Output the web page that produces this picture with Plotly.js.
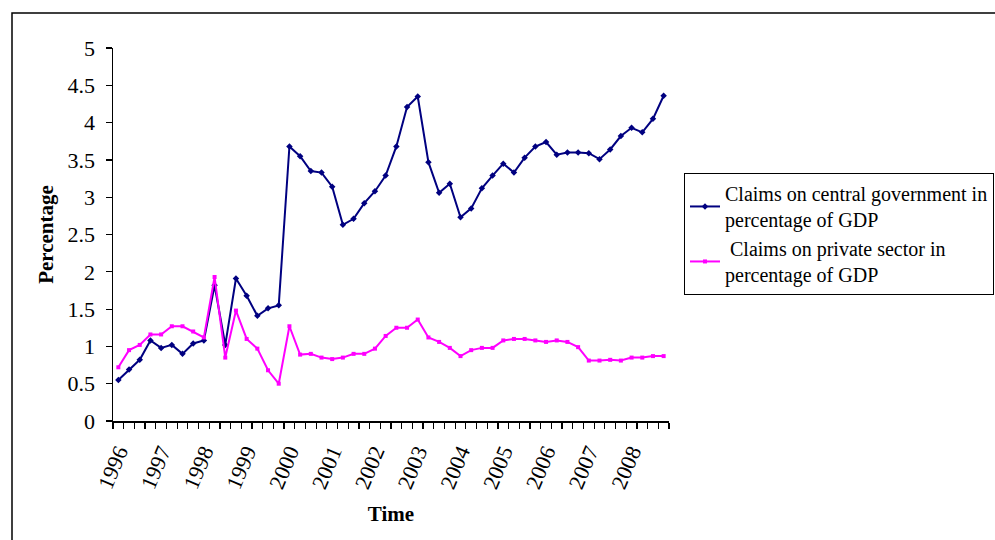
<!DOCTYPE html>
<html>
<head>
<meta charset="utf-8">
<script src="https://cdn.plot.ly/plotly-3.0.1.min.js"></script>
<style>
html,body{margin:0;padding:0;background:#fff;}
#chart{width:995px;height:540px;}
</style>
</head>
<body>
<div id="chart"></div>
<script>
// Quarterly observations 1996Q1 - 2008Q4
var years = ["1996","1997","1998","1999","2000","2001","2002","2003","2004","2005","2006","2007","2008"];
var quarterIndex = [];
for (var i = 0; i < 52; i++) quarterIndex.push(i);

var centralGov = [
  0.55, 0.69, 0.82, 1.08, 0.98, 1.02, 0.90, 1.04,
  1.08, 1.82, 1.02, 1.91, 1.68, 1.41, 1.51, 1.55,
  3.68, 3.55, 3.35, 3.33, 3.14, 2.63, 2.71, 2.92,
  3.08, 3.29, 3.68, 4.21, 4.35, 3.47, 3.06, 3.18,
  2.73, 2.85, 3.12, 3.29, 3.45, 3.33, 3.53, 3.68,
  3.74, 3.57, 3.60, 3.60, 3.59, 3.51, 3.64, 3.82,
  3.93, 3.87, 4.05, 4.36
];
var privateSector = [
  0.72, 0.95, 1.02, 1.16, 1.16, 1.27, 1.27, 1.20,
  1.12, 1.93, 0.85, 1.48, 1.10, 0.97, 0.68, 0.50,
  1.27, 0.89, 0.90, 0.85, 0.83, 0.85, 0.90, 0.90,
  0.97, 1.14, 1.25, 1.25, 1.36, 1.12, 1.06, 0.98,
  0.87, 0.95, 0.98, 0.98, 1.08, 1.10, 1.10, 1.08,
  1.06, 1.08, 1.06, 0.99, 0.81, 0.81, 0.82, 0.81,
  0.85, 0.85, 0.87, 0.87
];
var seriesNames = [
  "Claims on central government in<br>percentage of GDP",
  " Claims on private sector in<br>percentage of GDP"
];
var yTicks = [0, 0.5, 1, 1.5, 2, 2.5, 3, 3.5, 4, 4.5, 5];
var yTickText = ["0", "0.5", "1", "1.5", "2", "2.5", "3", "3.5", "4", "4.5", "5"];

var yearTickVals = years.map(function (y, k) { return k * 4; });
var serif = "Liberation Serif, Times New Roman, serif";

var traces = [
  {
    x: quarterIndex, y: centralGov, name: seriesNames[0],
    type: "scatter", mode: "lines+markers",
    line: {color: "#000080", width: 2},
    marker: {color: "#000080", symbol: "diamond", size: 5}
  },
  {
    x: quarterIndex, y: privateSector, name: seriesNames[1],
    type: "scatter", mode: "lines+markers",
    line: {color: "#FF00FF", width: 2},
    marker: {color: "#FF00FF", symbol: "square", size: 4}
  }
];

var layout = {
  width: 995, height: 540,
  margin: {l: 113, r: 326, t: 48, b: 119, pad: 0, autoexpand: false},
  paper_bgcolor: "#fff", plot_bgcolor: "#fff",
  font: {family: serif, size: 22, color: "#000"},
  showlegend: true,
  legend: {
    x: 1.027, xanchor: "left", y: 0.665, yanchor: "top",
    bordercolor: "#000", borderwidth: 1, bgcolor: "#fff",
    font: {family: serif, size: 20, color: "#000"},
    itemwidth: 30, tracegroupgap: 4
  },
  xaxis: {
    range: [-0.5, 51.5], fixedrange: true,
    showgrid: false, zeroline: false,
    showline: true, linecolor: "#000", linewidth: 1.5,
    tickmode: "array", tickvals: yearTickVals, ticktext: years,
    ticks: "", tickangle: -67, ticklabelstandoff: 8,
    tickfont: {family: serif, size: 22, color: "#000"},
    minor: {tickmode: "linear", tick0: -0.5, dtick: 1, ticks: "outside", ticklen: 6, tickwidth: 1.2, tickcolor: "#000", showgrid: false},
    title: {text: "<b>Time</b>", font: {family: serif, size: 21, color: "#000"}, standoff: 14}
  },
  yaxis: {
    range: [0, 5], fixedrange: true,
    showgrid: false, zeroline: false,
    showline: true, linecolor: "#000", linewidth: 1.5,
    tickmode: "array", tickvals: yTicks, ticktext: yTickText,
    ticks: "outside", ticklen: 6, tickwidth: 1.2, tickcolor: "#000",
    ticklabelstandoff: 6,
    tickfont: {family: serif, size: 22, color: "#000"},
    title: {text: "<b>Percentage</b>", font: {family: serif, size: 21, color: "#000"}, standoff: 8}
  },
  shapes: [{
    type: "rect", xref: "paper", yref: "paper",
    x0: (12 - 113) / 556, x1: (1005 - 113) / 556,
    y0: (421 - 560) / 373, y1: (421 - 13) / 373,
    line: {color: "#000", width: 1.5}, fillcolor: "rgba(0,0,0,0)", layer: "below"
  }]
};

Plotly.newPlot("chart", traces, layout, {displayModeBar: false, staticPlot: true});
</script>
</body>
</html>
